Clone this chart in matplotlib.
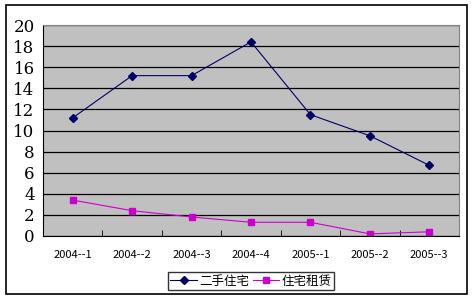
import matplotlib.pyplot as plt
from matplotlib.patches import Rectangle

plt.rcParams['font.family'] = ['Noto Sans CJK SC', 'DejaVu Sans']

# 数据
categories = ['2004--1', '2004--2', '2004--3', '2004--4', '2005--1', '2005--2', '2005--3']
ershou = [11.2, 15.2, 15.2, 18.4, 11.5, 9.5, 6.7]
zulin = [3.4, 2.4, 1.8, 1.3, 1.3, 0.2, 0.4]
yticks = list(range(0, 21, 2))

fig = plt.figure(figsize=(4.73, 3.0), dpi=100)
fig.patch.set_facecolor('white')
# 外框
fig.patches.append(Rectangle((6 / 473, 1 - 294 / 300), 461 / 473, 289 / 300,
                             transform=fig.transFigure, fill=False,
                             edgecolor='black', linewidth=1.2))

ax = fig.add_axes([43 / 473, 1 - 236 / 300, 416 / 473, 211 / 300])
ax.set_facecolor('#c0c0c0')
x = list(range(len(categories)))
ax.plot(x, ershou, color='#000066', marker='D', markersize=4, linewidth=0.8, label='二手住宅')
ax.plot(x, zulin, color='#cc00cc', marker='s', markersize=5, linewidth=0.8, label='住宅租赁')

ax.set_xlim(-0.5, len(categories) - 0.5)
ax.set_ylim(0, 20)
ax.set_yticks(yticks)
ax.set_yticklabels([str(v) for v in yticks], fontsize=12, family='DejaVu Serif')
ax.set_xticks(x)
ax.set_xticklabels(categories, fontsize=8)
ax.set_xticks([i + 0.5 for i in x[:-1]], minor=True)
ax.tick_params(axis='x', which='major', length=0, pad=10)
ax.tick_params(axis='x', which='minor', length=4, direction='in')
ax.tick_params(axis='y', length=0, pad=6)
ax.grid(axis='y', color='black', linewidth=0.9)
ax.set_axisbelow(True)
for s in ['top', 'right']:
    ax.spines[s].set_color('#808080')
for s in ['left', 'bottom']:
    ax.spines[s].set_color('black')

leg = ax.legend(loc='center', bbox_to_anchor=(251 / 473, 1 - 281 / 300),
                bbox_transform=fig.transFigure, ncol=2, fontsize=9,
                frameon=True, fancybox=False, edgecolor='black',
                handlelength=2.1, columnspacing=0.3, handletextpad=0.2,
                borderpad=0.2, borderaxespad=0)
leg.get_frame().set_linewidth(1.0)

fig.savefig('out.png', dpi=100)
